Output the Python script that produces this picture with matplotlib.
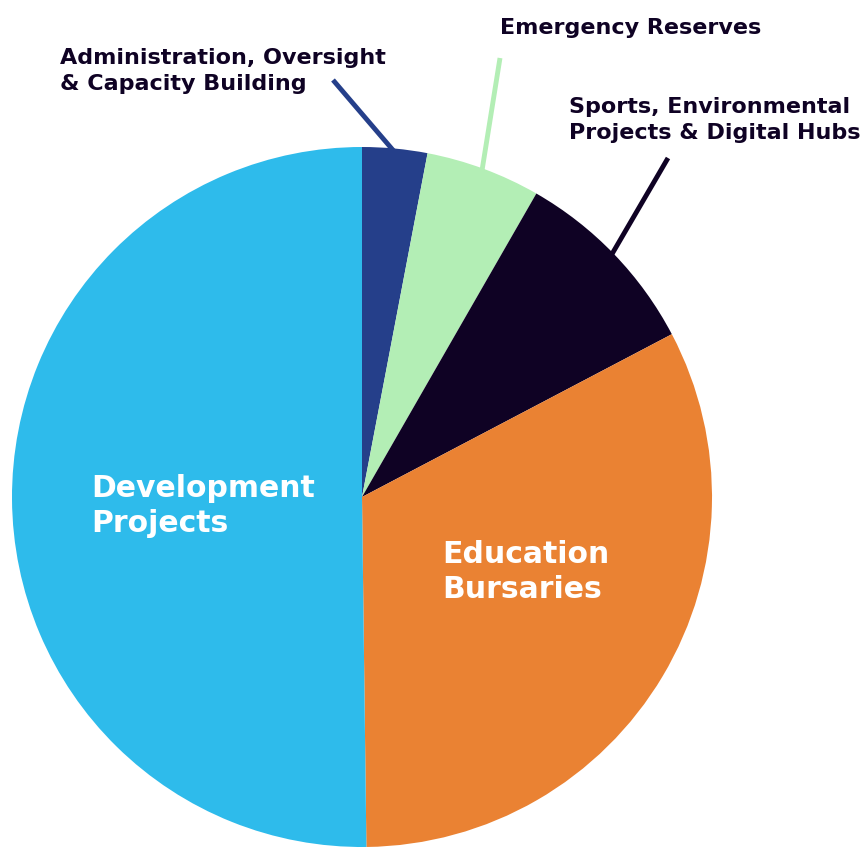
import numpy as np
import matplotlib.pyplot as plt

categories = ["Administration, Oversight\n& Capacity Building", "Emergency Reserves",
              "Sports, Environmental\nProjects & Digital Hubs", "Education\nBursaries",
              "Development\nProjects"]
values = [3.0, 5.3, 9.0, 32.5, 50.2]
colors = ["#253F8A", "#B3EEB5", "#0F0224", "#EA8233", "#2EBBEB"]

navy = "#0F0224"
font = "DejaVu Sans"

fig = plt.figure(figsize=(8.67, 8.49), dpi=100)
ax = fig.add_axes([0, 0, 1, 1])

cx, cy, r = 362, 497, 350
# y axis is inverted, so counterclock=True draws clockwise on screen
wedges, _ = ax.pie(values, colors=colors, startangle=-90, counterclock=True,
                   center=(cx, cy), radius=r, frame=True,
                   wedgeprops=dict(linewidth=0))
ax.set_xlim(0, 867)
ax.set_ylim(849, 0)
ax.set_aspect("equal")
ax.axis("off")

# outside labels with leader lines
outside = [
    (0, (60, 71), (333, 80), 0.99),
    (1, (500, 28), (500, 58), 0.98),
    (2, (569, 120), (668, 158), 0.98),
]
for i, (tx, ty), (lx, ly), rr in outside:
    w = wedges[i]
    ang = np.deg2rad((w.theta1 + w.theta2) / 2)
    sx, sy = cx + rr * r * np.cos(ang), cy + rr * r * np.sin(ang)
    ax.plot([sx, lx], [sy, ly], color=colors[i], lw=3.5, solid_capstyle="butt")
    ax.text(tx, ty, categories[i], ha="left", va="center", fontsize=16,
            fontweight="bold", color=navy, family=font, linespacing=1.35)

ax.text(91, 506, categories[4], ha="left", va="center", fontsize=21.5,
        fontweight="bold", color="white", family=font, linespacing=1.25)
ax.text(442, 572, categories[3], ha="left", va="center", fontsize=21.5,
        fontweight="bold", color="white", family=font, linespacing=1.25)

fig.savefig("out.png", dpi=100)
